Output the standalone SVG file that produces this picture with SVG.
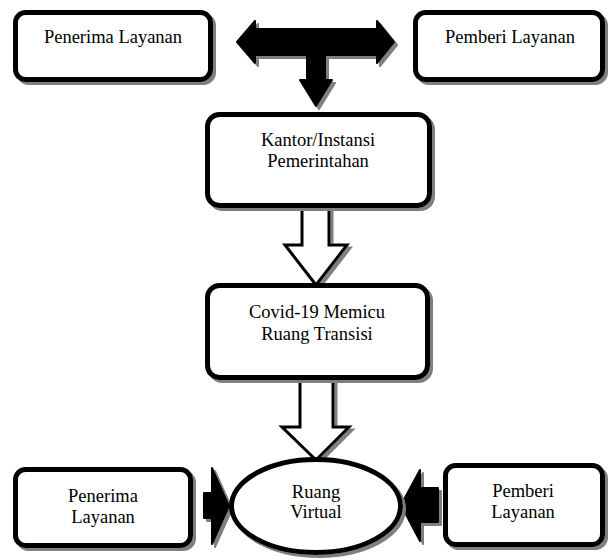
<svg xmlns="http://www.w3.org/2000/svg" width="608" height="560" viewBox="0 0 608 560">
<defs>
<filter id="sh" x="-10%" y="-10%" width="130%" height="130%">
<feFlood flood-color="#7f7f7f" result="c"/>
<feComposite in="c" in2="SourceAlpha" operator="in" result="s"/>
<feOffset in="s" dx="3" dy="3" result="o"/>
<feMerge><feMergeNode in="o"/><feMergeNode in="SourceGraphic"/></feMerge>
</filter>
<style>
.box{fill:#fff;stroke:#000;stroke-width:5;filter:url(#sh)}
.solid{fill:#000;stroke:#000;stroke-width:2;stroke-linejoin:round;filter:url(#sh)}
.hollow{fill:#fff;stroke:#000;stroke-width:3;stroke-linejoin:miter;filter:url(#sh)}
text{font-family:"Liberation Serif","Times New Roman",serif;font-size:18.5px;fill:#000;text-anchor:middle}
</style>
</defs>
<rect width="608" height="560" fill="#fff"/>
<g id="connectors">
<path class="solid" d="M237,42 L255,21 L255,29 L377,29 L377,21 L394,42 L377,63 L377,55 L325,55 L325,80 L332,80 L316,106 L300,80 L307,80 L307,55 L255,55 L255,63 Z"/>
<path class="hollow" d="M302,209 L329,209 L329,245 L347,245 L316,285 L285,245 L302,245 Z"/>
<path class="hollow" d="M300,380 L333,380 L333,427 L349,427 L316,460 L282,427 L300,427 Z"/>
<path class="solid" d="M204,493 L212,493 L212,468 L229,506 L212,544 L212,518 L204,518 Z"/>
<path class="solid" d="M438,488 L420,488 L420,470 L401,505 L420,541 L420,522 L438,522 Z"/>
</g>
<g id="penerima-top">
<rect class="box" x="15.5" y="12.5" width="195" height="67" rx="10"/>
<text x="113" y="43">Penerima Layanan</text>
</g>
<g id="pemberi-top">
<rect class="box" x="415.5" y="12.5" width="187" height="67" rx="10"/>
<text x="510" y="43">Pemberi Layanan</text>
</g>
<g id="kantor">
<rect class="box" x="207.5" y="114.5" width="222" height="91" rx="12"/>
<text x="318" y="146">Kantor/Instansi</text>
<text x="318" y="167">Pemerintahan</text>
</g>
<g id="covid">
<rect class="box" x="207.5" y="285.5" width="220" height="92" rx="12"/>
<text x="317" y="318">Covid-19 Memicu</text>
<text x="317" y="340">Ruang Transisi</text>
</g>
<g id="ruang-virtual">
<ellipse class="box" cx="316" cy="506" rx="84.5" ry="46.5"/>
<text x="316" y="498">Ruang</text>
<text x="316" y="518">Virtual</text>
</g>
<g id="penerima-bottom">
<rect class="box" x="15.5" y="469.5" width="175" height="76" rx="10"/>
<text x="103" y="502">Penerima</text>
<text x="103" y="523">Layanan</text>
</g>
<g id="pemberi-bottom">
<rect class="box" x="445.5" y="465.5" width="157" height="79" rx="10"/>
<text x="523" y="497">Pemberi</text>
<text x="523" y="518">Layanan</text>
</g>
</svg>
